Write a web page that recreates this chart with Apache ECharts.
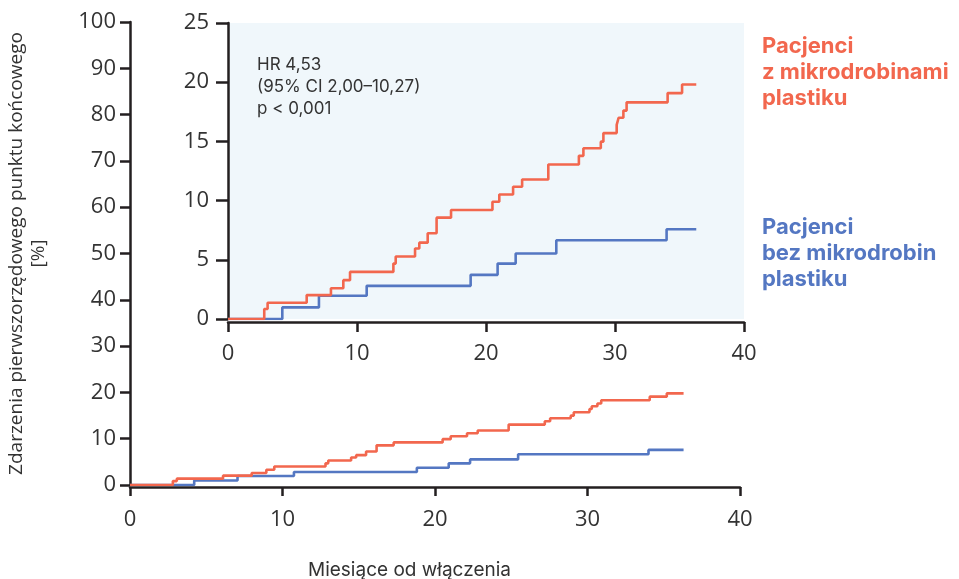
<!DOCTYPE html>
<html>
<head>
<meta charset="utf-8">
<script src="https://cdn.jsdelivr.net/npm/echarts@6/dist/echarts.min.js"></script>
<style>
html,body{margin:0;padding:0;background:#fff;}
#c{width:959px;height:579px;}
</style>
</head>
<body>
<div id="c"></div>
<script>
// Cumulative incidence (%) step points: [month, value]
const redTimes  = [0, 2.81, 3.07, 6.1, 7.98, 8.94, 9.46, 12.82, 13.0, 14.5, 14.83, 15.48, 16.17, 17.29, 20.5, 21.03, 22.1, 22.8, 24.83, 27.2, 27.55, 28.9, 29.1, 30.13, 30.28, 30.65, 30.9, 34.08, 35.2, 36.3];
const redValues = [0, 0.84, 1.37, 2.02, 2.6, 3.28, 3.98, 4.68, 5.28, 5.95, 6.45, 7.24, 8.56, 9.2, 9.9, 10.52, 11.17, 11.78, 13.05, 13.78, 14.42, 14.98, 15.7, 16.4, 17.0, 17.6, 18.3, 19.08, 19.8, 19.8];
const blueTimes  = [0, 4.21, 7.05, 10.75, 18.81, 20.9, 22.3, 25.45, 34.0, 36.3];
const blueValues = [0, 0.98, 1.96, 2.8, 3.73, 4.68, 5.53, 6.65, 7.58, 7.58];

const mainYTicks = [0, 10, 20, 30, 40, 50, 60, 70, 80, 90, 100];
const insetYTicks = [0, 5, 10, 15, 20, 25];
const xTicks = [0, 10, 20, 30, 40];

const yTitle = 'Zdarzenia pierwszorzędowego punktu końcowego\n[%]';
const xTitle = 'Miesiące od włączenia';
const statsText = ['HR 4,53', '(95% CI 2,00–10,27)', 'p < 0,001'];
const redLabel = 'Pacjenci\nz mikrodrobinami\nplastiku';
const blueLabel = 'Pacjenci\nbez mikrodrobin\nplastiku';

const RED = '#f2674e';
const BLUE = '#5477c2';
const AX = '#231f20';
const FONT = 'Open Sans';

const red = redTimes.map((t, i) => [t, redValues[i]]);
const blue = blueTimes.map((t, i) => [t, blueValues[i]]);

function xAxis(grid, margin, offset, tickLen) {
  return {
    type: 'value', gridIndex: grid, min: xTicks[0], max: xTicks[xTicks.length - 1], interval: xTicks[1] - xTicks[0],
    offset: offset,
    axisLine: {show: true, onZero: false, lineStyle: {color: AX, width: 2.5}},
    axisTick: {show: true, length: tickLen, lineStyle: {color: AX, width: 2.5}},
    axisLabel: {color: '#333', fontSize: 22, fontFamily: FONT, margin: margin},
    splitLine: {show: false}
  };
}
function yAxis(grid, ticks, tickLen, margin, extra) {
  return Object.assign({
    type: 'value', gridIndex: grid, min: ticks[0], max: ticks[ticks.length - 1], interval: ticks[1] - ticks[0],
    axisLine: {show: true, lineStyle: {color: AX, width: 2.5}},
    axisTick: {show: true, length: tickLen, lineStyle: {color: AX, width: 2.5}},
    axisLabel: {color: '#333', fontSize: 22, fontFamily: FONT, margin: margin},
    splitLine: {show: false}
  }, extra || {});
}
function line(data, color, xi, yi, z) {
  return {
    type: 'line', step: 'end', data: data, xAxisIndex: xi, yAxisIndex: yi,
    showSymbol: false, symbol: 'none', z: z,
    lineStyle: {color: color, width: 2.6}, animation: false
  };
}

const chart = echarts.init(document.getElementById('c'), null, {renderer: 'canvas'});
chart.setOption({
  animation: false,
  grid: [
    {left: 130, top: 22, right: 219, bottom: 94, outerBoundsMode: 'none', containLabel: false},
    {left: 228, top: 23, right: 215, bottom: 260, outerBoundsMode: 'none', containLabel: false, show: true, backgroundColor: '#f0f7fb', borderWidth: 0, z: 5}
  ],
  xAxis: [xAxis(0, 22, 2, 9), Object.assign(xAxis(1, 21, 3, 10), {z: 6})],
  yAxis: [
    yAxis(0, mainYTicks, 10, 14, {
      name: yTitle, nameLocation: 'middle', nameRotate: 90, nameGap: 80,
      nameTextStyle: {color: '#333', fontSize: 19, fontFamily: FONT, lineHeight: 22, align: 'center'}
    }),
    Object.assign(yAxis(1, insetYTicks, 12, 19), {z: 6})
  ],
  series: [
    line(blue, BLUE, 0, 0, 2),
    line(red, RED, 0, 0, 3),
    line(blue, BLUE, 1, 1, 7),
    line(red, RED, 1, 1, 8)
  ],
  graphic: [
    {type: 'text', left: 257, top: 54, z: 20, style: {text: statsText.join('\n'), fill: '#333', fontSize: 17, lineHeight: 22, fontFamily: 'Inter'}},
    {type: 'text', left: 762, top: 33, z: 20, style: {text: redLabel, fill: RED, fontSize: 22, fontWeight: 'bold', lineHeight: 26, fontFamily: 'Inter'}},
    {type: 'text', left: 762, top: 214, z: 20, style: {text: blueLabel, fill: BLUE, fontSize: 22, fontWeight: 'bold', lineHeight: 26, fontFamily: 'Inter'}},
    {type: 'text', left: 308, top: 561, z: 20, style: {text: xTitle, fill: '#333', fontSize: 19, fontFamily: 'Inter'}}
  ]
});
</script>
</body>
</html>
